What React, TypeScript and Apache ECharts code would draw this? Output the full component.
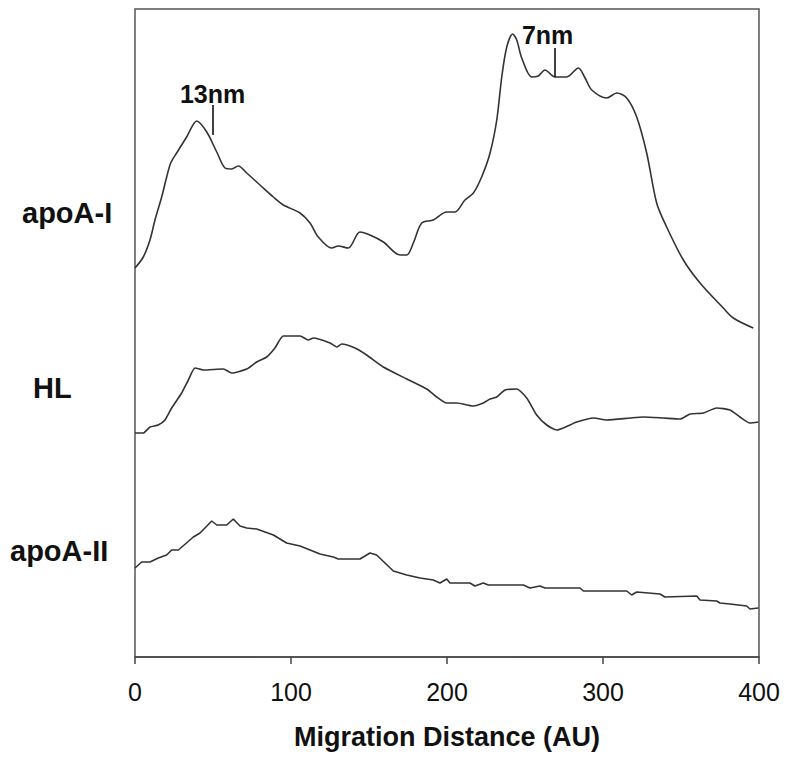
import React, { useEffect, useRef } from "react";
import * as echarts from "echarts";

// Migration distance (AU) vs. densitometric signal (arbitrary units, stacked traces)
const apoA1: [number, number][] = [
  [0, 389], [5.3, 400], [9.6, 417], [12.8, 437], [17.1, 460], [20.3, 480], [22.9, 494],
  [26.7, 504], [33.1, 520], [39.6, 536], [46.0, 525], [52.4, 505], [57.7, 489], [62.0, 488],
  [66.2, 491], [71.6, 484], [80.1, 472], [88.7, 460], [95.1, 452], [105.8, 444], [112.2, 434],
  [117.5, 420], [126.1, 409], [130.3, 411], [136.7, 409], [144.2, 425], [150.6, 422],
  [159.2, 415], [169.9, 402], [174.2, 402], [178.4, 414], [183.8, 434], [191.2, 437],
  [199.8, 445], [205.1, 445], [211.5, 457], [216.9, 464], [222.2, 480], [227.6, 504],
  [231.9, 537], [235.1, 580], [238.3, 610], [242.1, 623], [244.7, 617], [247.9, 599],
  [254.3, 580], [258.5, 581], [262.8, 587], [269.2, 580], [276.7, 580], [284.2, 589],
  [288.5, 579], [292.8, 567], [302.4, 559], [308.8, 564], [315.2, 559], [321.6, 540],
  [328.0, 504], [334.4, 454], [340.8, 430], [351.5, 397], [362.2, 374], [377.1, 349],
  [383.5, 339], [396.3, 329],
];

const hl: [number, number][] = [
  [0, 224], [5.3, 224], [9.6, 230], [14.9, 232], [19.2, 237], [23.5, 249], [29.9, 264],
  [34.2, 277], [38.5, 289], [43.8, 287], [56.6, 288], [62.0, 284], [71.6, 288], [78.0, 295],
  [84.4, 300], [89.7, 309], [95.1, 321], [105.8, 321], [111.1, 317], [114.3, 319], [125.0, 314],
  [129.3, 310], [132.5, 313], [141.0, 309], [148.5, 302], [159.2, 290], [174.2, 278],
  [187.0, 268], [193.4, 260], [199.8, 254], [206.2, 254], [216.9, 251], [223.3, 254],
  [227.6, 258], [231.9, 260], [237.2, 267], [244.7, 268], [251.1, 259], [257.5, 242],
  [263.9, 232], [270.3, 227], [278.8, 232], [283.1, 235], [293.8, 239], [302.4, 237],
  [317.3, 239], [325.8, 240], [338.7, 239], [349.4, 238], [355.8, 243], [364.3, 244],
  [372.9, 249], [381.4, 247], [387.8, 240], [394.2, 234], [399.6, 235],
];

const apoA2: [number, number][] = [
  [0, 89], [4.3, 95], [9.6, 95], [14.9, 99], [20.3, 102], [23.5, 107], [27.8, 107],
  [37.4, 120], [41.7, 124], [49.2, 136], [52.4, 132], [58.8, 132], [63.0, 138], [67.3, 131],
  [71.6, 129], [78.0, 128], [88.7, 122], [97.2, 114], [105.8, 111], [118.6, 103], [127.1, 100],
  [130.3, 98], [144.2, 98], [150.6, 104], [154.9, 102], [165.6, 86], [174.2, 82], [182.7, 79],
  [191.2, 77], [195.5, 74], [199.8, 78], [201.9, 74], [214.7, 74], [217.9, 71], [223.3, 74],
  [226.5, 72], [248.9, 72], [253.2, 69], [259.6, 71], [262.8, 69], [285.3, 69], [287.4, 66],
  [315.2, 66], [318.4, 62], [321.6, 65], [336.5, 63], [339.7, 60], [360.1, 61], [362.2, 57],
  [372.9, 56], [375.0, 54], [381.4, 53], [392.1, 51], [394.2, 48], [399.6, 49],
];

const xTicks = [0, 100, 200, 300, 400];
const traceLabels = ["apoA-I", "HL", "apoA-II"];
// annotation tick marks: [x (AU), y bottom, y top]
const annotationTicks: [number, number, number][] = [
  [50, 522, 552],
  [269, 580, 609],
];
// annotation texts: [label, x (AU), y]
const annotationTexts: [string, number, number][] = [
  ["13nm", 49.7, 563],
  ["7nm", 264.5, 622],
];

const FONT = "'Liberation Sans', Arial, Helvetica, sans-serif";

export default function App() {
  const ref = useRef<HTMLDivElement>(null);
  useEffect(() => {
    if (!ref.current) return;
    const chart = echarts.init(ref.current, undefined, { renderer: "svg" });
    const lineColor = "#333";
    const mkSeries = (name: string, data: [number, number][], smooth: number | boolean) => ({
      name,
      type: "line",
      data,
      showSymbol: false,
      symbol: "none",
      smooth,
      lineStyle: { color: lineColor, width: 1.6 },
      z: 3,
    });
    const a1 = mkSeries(traceLabels[0], apoA1, 0.3) as any;
    a1.markLine = {
      silent: true,
      symbol: ["none", "none"],
      lineStyle: { color: "#111", width: 1.6, type: "solid" },
      label: { show: false },
      data: annotationTicks.map(([x, y0, y1]) => [{ coord: [x, y0] }, { coord: [x, y1] }]),
    };
    a1.markPoint = {
      silent: true,
      symbol: "circle",
      symbolSize: 0,
      label: {
        show: true,
        position: "inside",
        fontSize: 25,
        fontWeight: "bold",
        fontFamily: FONT,
        color: "#111",
        formatter: (p: any) => p.name,
      },
      data: annotationTexts.map(([lbl, x, y]) => ({ name: lbl, coord: [x, y] })),
    };
    const labelY = [215, 390, 553];
    const labelX = [22, 33, 10];
    chart.setOption({
      animation: false,
      backgroundColor: "#fff",
      grid: {
        left: 135,
        right: 27,
        top: 9,
        bottom: 104,
        show: true,
        borderColor: "#555",
        borderWidth: 1.5,
        backgroundColor: "transparent",
      },
      xAxis: {
        type: "value",
        min: 0,
        max: 400,
        interval: 100,
        name: "Migration Distance (AU)",
        nameLocation: "middle",
        nameGap: 66,
        nameTextStyle: { fontSize: 27, fontWeight: "bold", fontFamily: FONT, color: "#111" },
        axisLine: { show: true, lineStyle: { color: "#444", width: 1.5 } },
        axisTick: { show: true, length: 7, lineStyle: { color: "#444", width: 1.5 } },
        axisLabel: {
          fontSize: 25,
          fontFamily: FONT,
          color: "#111",
          margin: 22,
          formatter: (v: number) => (xTicks.includes(v) ? String(v) : ""),
        },
        splitLine: { show: false },
      },
      yAxis: {
        type: "value",
        min: 0,
        max: 648,
        show: false,
        splitLine: { show: false },
      },
      graphic: traceLabels.map((t, i) => ({
        type: "text",
        left: labelX[i],
        top: labelY[i] - 17,
        style: {
          text: t,
          font: `bold 29px ${FONT}`,
          fill: "#111",
        },
      })),
      series: [a1, mkSeries(traceLabels[1], hl, 0.2), mkSeries(traceLabels[2], apoA2, false)],
    });
    return () => chart.dispose();
  }, []);
  return <div ref={ref} style={{ width: 786, height: 761, position: "absolute", left: 0, top: 0 }} />;
}
